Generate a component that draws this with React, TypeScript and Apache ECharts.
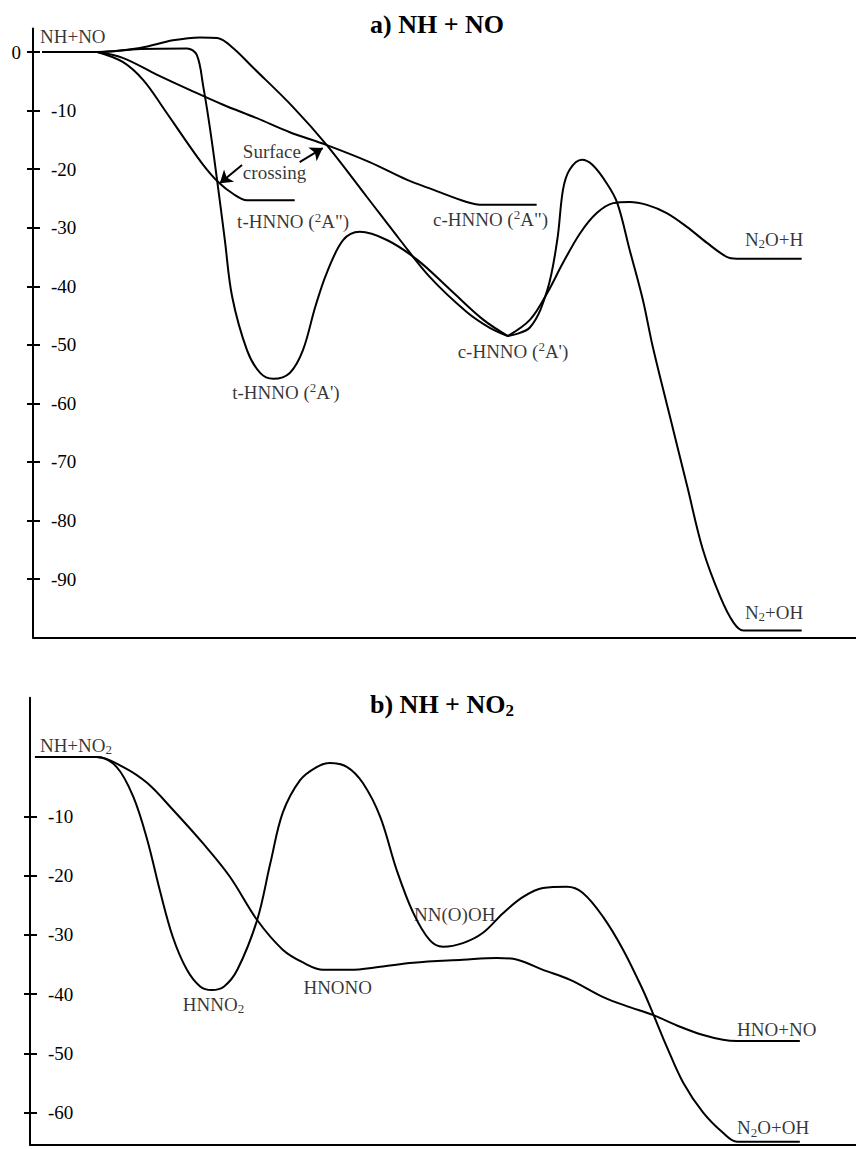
import React, { useEffect, useRef } from "react";
import * as echarts from "echarts";

const FONT = '"Liberation Serif", "Times New Roman", Times, serif';

// ---------- Panel a) NH + NO ----------
const aTickValues = [-90, -80, -70, -60, -50, -40, -30, -20, -10, 0];
const aTickLabelValues = [-90, -80, -70, -60, -50, -40, -30, -20, -10];
const aZeroLabel = [0];

// reaction coordinate (0..100), energy (kcal/mol)
const aViaTopBarrier: [number, number][] = [
  [1.1, 0], [7.8, 0], [13.0, 0.7], [17.0, 2.0], [20.3, 2.5], [22.4, 2.4], [24.3, 0.7],
  [26.7, -2.6], [31.6, -9.4], [35.7, -15.9], [40.6, -24.8], [44.6, -32.1], [48.2, -38.4],
  [52.7, -44.4], [55.5, -47.1], [57.7, -48.5],
];
const aViaTrans2Ap: [number, number][] = [
  [1.1, 0], [7.8, 0], [13.0, 0.5], [18.7, 0.6], [19.9, -0.5], [20.7, -6.0], [21.5, -13.0],
  [22.4, -22.2], [23.3, -32.0], [24.2, -41.8], [26.0, -50.9], [27.6, -54.8], [29.2, -55.8],
  [31.2, -54.8], [32.8, -50.9], [34.3, -43.5], [35.7, -37.7], [37.7, -32.1], [39.7, -30.7],
  [43.0, -32.1], [46.7, -35.5], [50.7, -40.6], [54.7, -45.7], [57.7, -48.5],
];
const aTrans2App: [number, number][] = [
  [7.8, 0], [10.9, -1.7], [13.4, -4.8], [16.0, -9.9], [18.5, -15.0], [20.7, -19.3],
  [22.5, -22.2], [24.3, -24.2], [26.0, -25.3], [31.8, -25.3],
];
const aCis2App: [number, number][] = [
  [7.8, 0], [10.9, -1.0], [15.1, -3.9], [19.1, -6.5], [23.1, -9.0], [27.2, -11.3],
  [31.2, -13.7], [35.7, -15.9], [40.9, -18.8], [45.4, -21.8], [48.6, -23.5], [52.7, -25.6],
  [54.7, -26.1], [61.2, -26.1],
];
const aToN2OH: [number, number][] = [
  [57.7, -48.5], [60.4, -47.0], [62.5, -40.6], [63.7, -32.1], [64.4, -23.5], [65.2, -20.1],
  [66.7, -18.4], [68.0, -19.3], [69.7, -22.4], [71.0, -25.8], [72.5, -33.8], [74.1, -42.3],
  [75.3, -50.3], [77.4, -62.3], [79.5, -74.2], [81.4, -85.0], [83.5, -93.0], [85.1, -97.4],
  [86.3, -98.8], [93.4, -98.8],
];
const aToN2OH_H: [number, number][] = [
  [57.7, -48.5], [60.4, -45.7], [62.5, -41.1], [64.4, -36.0], [66.5, -30.9], [68.5, -27.5],
  [70.5, -25.8], [72.5, -25.6], [74.6, -26.1], [77.0, -27.5], [79.5, -29.9], [81.9, -32.6],
  [84.3, -35.0], [85.5, -35.3], [93.4, -35.3],
];
const aLabelNames = [
  "{m|NH+NO}",
  "{c|Surface}\n{c|crossing}",
  '{m|t-HNNO (}{p|2}{m|A")}',
  '{m|c-HNNO (}{p|2}{m|A")}',
  "{m|t-HNNO (}{p|2}{m|A')}",
  "{m|c-HNNO (}{p|2}{m|A')}",
  "{m|N}{s|2}{m|O+H}",
  "{m|N}{s|2}{m|+OH}",
];
const aLabelAt: [number, number][] = [
  [0.85, 2.6], [25.5, -18.8], [24.8, -29.0], [48.6, -28.6],
  [24.2, -58.1], [51.6, -51.1], [86.5, -32.0], [86.5, -95.7],
];
const aArrows: [[number, number], [number, number]][] = [
  [[25.4, -19.3], [22.7, -22.4]],
  [[32.4, -18.8], [35.2, -16.4]],
];

// ---------- Panel b) NH + NO2 ----------
const bTickValues = [-60, -50, -40, -30, -20, -10];
const bTickLabelValues = [-60, -50, -40, -30, -20, -10];

const bViaHNNO2: [number, number][] = [
  [0.6, 0], [8.1, 0], [10.5, -1.7], [12.5, -6.7], [14.2, -14.0], [15.7, -22.4], [17.3, -30.4],
  [19.0, -35.9], [20.6, -38.7], [22.0, -39.3], [23.5, -38.7], [25.1, -35.9], [27.5, -27.5],
  [29.1, -17.9], [30.6, -9.4], [32.7, -3.9], [34.7, -1.7], [36.3, -1.0], [38.4, -1.7],
  [40.3, -4.4], [42.4, -10.1], [44.4, -19.1], [46.4, -26.3], [48.4, -30.9], [50.0, -32.0],
  [52.4, -31.4], [54.8, -29.7], [57.3, -26.3], [59.7, -23.6], [62.1, -22.1], [65.0, -21.9],
  [66.9, -22.9], [69.4, -27.0], [71.8, -32.5], [74.2, -39.3], [75.4, -43.2], [77.1, -48.9],
  [79.1, -55.0], [81.5, -60.0], [83.9, -63.4], [85.6, -64.9], [93.2, -64.9],
];
const bViaHNONO: [number, number][] = [
  [0.6, 0], [8.1, 0], [11.3, -1.7], [14.2, -4.4], [17.3, -8.9], [20.9, -14.5], [24.2, -20.2],
  [27.5, -27.5], [30.6, -32.5], [33.1, -34.7], [35.5, -35.9], [38.7, -35.9], [42.4, -35.4],
  [46.4, -34.7], [52.4, -34.2], [56.5, -33.9], [59.0, -34.2], [62.1, -35.9], [65.4, -37.6],
  [69.4, -40.5], [72.6, -42.2], [75.4, -43.5], [78.7, -45.5], [81.5, -46.9], [83.9, -47.7],
  [85.6, -47.9], [93.2, -47.9],
];
const bLabelNames = [
  "{m|NH+NO}{s|2}",
  "{m|HNNO}{s|2}",
  "{m|HNONO}",
  "{m|NN(O)OH}",
  "{m|HNO+NO}",
  "{m|N}{s|2}{m|O+OH}",
];
const bLabelAt: [number, number][] = [
  [1.2, 2.0], [18.5, -41.7], [33.1, -38.9], [46.5, -26.6], [85.6, -46.0], [85.6, -62.5],
];

const RICH = {
  m: { fontSize: 19, lineHeight: 22, verticalAlign: "middle", fontFamily: FONT, color: "#000" },
  c: { fontSize: 19, lineHeight: 21, verticalAlign: "middle", fontFamily: FONT, color: "#000" },
  s: { fontSize: 13, lineHeight: 11, verticalAlign: "bottom", fontFamily: FONT, color: "#000" },
  p: { fontSize: 13, lineHeight: 6, verticalAlign: "top", fontFamily: FONT, color: "#000" },
};
const TRICH = {
  t: { fontSize: 26, fontWeight: "bold", lineHeight: 30, verticalAlign: "middle", fontFamily: FONT, color: "#000" },
  u: { fontSize: 17, fontWeight: "bold", lineHeight: 14, verticalAlign: "bottom", fontFamily: FONT, color: "#000" },
};

function curve(data: [number, number][], idx: number) {
  return {
    type: "line",
    xAxisIndex: idx,
    yAxisIndex: idx,
    data,
    smooth: 0.35,
    showSymbol: false,
    symbol: "none",
    silent: true,
    lineStyle: { color: "#000", width: 2 },
    z: 3,
  };
}

function labelSeries(names: string[], at: [number, number][], idx: number, arrows?: any[]) {
  const s: any = {
    type: "scatter",
    xAxisIndex: idx,
    yAxisIndex: idx,
    symbolSize: 0,
    silent: true,
    z: 5,
    itemStyle: { color: "#000" },
    data: at.map((p, i) => ({ name: names[i], value: p })),
    label: {
      show: true,
      position: "right",
      distance: 0,
      formatter: (p: any) => p.name,
      rich: RICH,
    },
  };
  if (arrows) {
    s.markLine = {
      silent: true,
      animation: false,
      symbol: ["none", "arrow"],
      symbolSize: 12,
      label: { show: false },
      emphasis: { disabled: true },
      lineStyle: { color: "#000", width: 2, type: "solid", opacity: 1 },
      itemStyle: { color: "#000", opacity: 1 },
      data: arrows.map(([a, b]) => [
        { coord: a, symbol: "none" },
        { coord: b, symbol: "arrow", symbolSize: 12, itemStyle: { color: "#000" } },
      ]),
    };
  }
  return s;
}

function mainY(grid: number, min: number, max: number, ticks: number[], labels: number[]) {
  return {
    type: "value",
    gridIndex: grid,
    min,
    max,
    position: "left",
    axisLine: { show: true, onZero: false, lineStyle: { color: "#000", width: 2 } },
    axisTick: { show: true, inside: true, length: 7, customValues: ticks, lineStyle: { color: "#000", width: 2 } },
    axisLabel: {
      show: true,
      inside: true,
      margin: 18,
      customValues: labels,
      color: "#000",
      fontFamily: FONT,
      fontSize: 19,
      formatter: (v: number) => String(v),
    },
    splitLine: { show: false },
  };
}

function auxY(grid: number, min: number, max: number, ticks: number[], labels: number[]) {
  return {
    type: "value",
    gridIndex: grid,
    min,
    max,
    position: "left",
    axisLine: { show: false, onZero: false },
    axisTick: { show: true, inside: false, length: 6, customValues: ticks, lineStyle: { color: "#000", width: 2 } },
    axisLabel: {
      show: labels.length > 0,
      inside: false,
      margin: 12,
      customValues: labels,
      color: "#000",
      fontFamily: FONT,
      fontSize: 19,
      formatter: (v: number) => String(v),
    },
    splitLine: { show: false },
  };
}

function mainX(grid: number) {
  return {
    type: "value",
    gridIndex: grid,
    min: 0,
    max: 100,
    axisLine: { show: true, onZero: false, lineStyle: { color: "#000", width: 2 } },
    axisTick: { show: false },
    axisLabel: { show: false },
    splitLine: { show: false },
  };
}

export default function App() {
  const ref = useRef<HTMLDivElement>(null);
  useEffect(() => {
    if (!ref.current) return;
    const chart = echarts.init(ref.current, undefined, { renderer: "svg" });
    const gA = { left: 33, top: 28.6, width: 823, height: 609, outerBoundsMode: "none", containLabel: false };
    const gB = { left: 30, top: 697.7, width: 826, height: 447, outerBoundsMode: "none", containLabel: false };
    chart.setOption({
      animation: false,
      backgroundColor: "#fff",
      tooltip: { show: false },
      title: [
        { text: "{t|a) NH + NO}", left: 370, top: 9, padding: 0, textStyle: { rich: TRICH } },
        { text: "{t|b) NH + NO}{u|2}", left: 370, top: 689, padding: 0, textStyle: { rich: TRICH } },
      ],
      grid: [gA, { ...gA }, gB, { ...gB }],
      xAxis: [
        mainX(0),
        { type: "value", gridIndex: 1, min: 0, max: 100, show: false },
        mainX(2),
        { type: "value", gridIndex: 3, min: 0, max: 100, show: false },
      ],
      yAxis: [
        mainY(0, -100, 4, aTickValues, aTickLabelValues),
        auxY(1, -100, 4, aTickValues, aZeroLabel),
        mainY(2, -65.4, 10, bTickValues, bTickLabelValues),
        auxY(3, -65.4, 10, bTickValues, []),
      ],
      series: [
        curve(aViaTopBarrier, 0),
        curve(aViaTrans2Ap, 0),
        curve(aTrans2App, 0),
        curve(aCis2App, 0),
        curve(aToN2OH, 0),
        curve(aToN2OH_H, 0),
        labelSeries(aLabelNames, aLabelAt, 0, aArrows),
        curve(bViaHNNO2, 2),
        curve(bViaHNONO, 2),
        labelSeries(bLabelNames, bLabelAt, 2),
      ],
    });
    return () => chart.dispose();
  }, []);
  return (
    <div
      ref={ref}
      style={{ position: "absolute", left: 0, top: 0, width: 856, height: 1149, background: "#fff" }}
    />
  );
}
